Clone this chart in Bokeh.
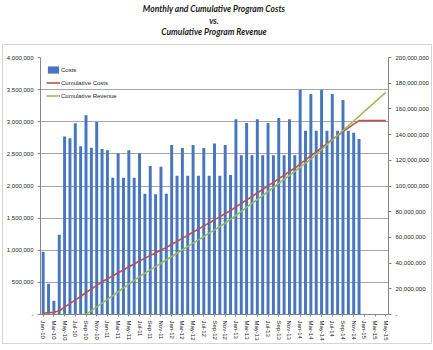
import numpy as np
from bokeh.plotting import figure
from bokeh.layouts import column
from bokeh.models import (Range1d, LinearAxis, FixedTicker, NumeralTickFormatter,
                          Legend, LegendItem, ColumnDataSource)
from bokeh.core.properties import value
from bokeh.embed import file_html
from bokeh.resources import INLINE

# ---------------- data ----------------
months = ["Jan-10", "Feb-10", "Mar-10", "Apr-10", "May-10", "Jun-10", "Jul-10", "Aug-10", "Sep-10", "Oct-10", "Nov-10", "Dec-10",
          "Jan-11", "Feb-11", "Mar-11", "Apr-11", "May-11", "Jun-11", "Jul-11", "Aug-11", "Sep-11", "Oct-11", "Nov-11", "Dec-11",
          "Jan-12", "Feb-12", "Mar-12", "Apr-12", "May-12", "Jun-12", "Jul-12", "Aug-12", "Sep-12", "Oct-12", "Nov-12", "Dec-12",
          "Jan-13", "Feb-13", "Mar-13", "Apr-13", "May-13", "Jun-13", "Jul-13", "Aug-13", "Sep-13", "Oct-13", "Nov-13", "Dec-13",
          "Jan-14", "Feb-14", "Mar-14", "Apr-14", "May-14", "Jun-14", "Jul-14", "Aug-14", "Sep-14", "Oct-14", "Nov-14", "Dec-14",
          "Jan-15", "Feb-15", "Mar-15", "Apr-15", "May-15"]

costs = [975000, 480000, 215000, 1240000, 2770000, 2745000, 2975000, 2620000, 3100000, 2595000, 2995000, 2575000,
         2555000, 2130000, 2510000, 2130000, 2555000, 2130000, 2510000, 1880000, 2310000, 1870000, 2300000, 1880000,
         2640000, 2160000, 2590000, 2160000, 2640000, 2160000, 2590000, 2160000, 2660000, 2160000, 2640000, 2170000,
         3040000, 2480000, 2980000, 2480000, 3040000, 2480000, 2980000, 2480000, 3060000, 2480000, 3040000, 2480000,
         3500000, 2860000, 3430000, 2860000, 3500000, 2860000, 3430000, 2860000, 3340000, 2860000, 2830000, 2730000]

cumulative_costs = [975000, 1455000, 1670000, 2910000, 5680000, 8425000, 11400000, 14020000, 17120000, 19715000, 22710000, 25285000,
                    27840000, 29970000, 32480000, 34610000, 37165000, 39295000, 41805000, 43685000, 45995000, 47865000, 50165000, 52045000,
                    54685000, 56845000, 59435000, 61595000, 64235000, 66395000, 68985000, 71145000, 73805000, 75965000, 78605000, 80775000,
                    83815000, 86295000, 89275000, 91755000, 94795000, 97275000, 100255000, 102735000, 105795000, 108275000, 111315000, 113795000,
                    117295000, 120155000, 123585000, 126445000, 129945000, 132805000, 136235000, 139095000, 142435000, 145295000, 148125000, 150855000,
                    150855000, 150855000, 150855000, 150855000, 150855000]

cumulative_revenue = [0, 0, 0, 0, 0, 0, 0, 0, 0, 2950000, 5900000, 8850000,
                      11800000, 14750000, 17700000, 20650000, 23600000, 26550000, 29500000, 32100000, 34700000, 37300000, 39900000, 42500000,
                      45100000, 47700000, 50300000, 52900000, 55500000, 58100000, 60700000, 63300000, 65900000, 68500000, 71200000, 74000000,
                      77100000, 80200000, 83300000, 86400000, 89500000, 92600000, 95700000, 98900000, 102000000, 105200000, 108300000, 111400000,
                      114600000, 117800000, 121000000, 124700000, 128400000, 132100000, 135800000, 139500000, 143200000, 146900000, 150600000, 154300000,
                      158000000, 161700000, 165400000, 169100000, 172800000]

left_ticks = [0, 500000, 1000000, 1500000, 2000000, 2500000, 3000000, 3500000, 4000000]
right_ticks = [0, 20000000, 40000000, 60000000, 80000000, 100000000, 120000000, 140000000, 160000000, 180000000, 200000000]
title_lines = ["Monthly and Cumulative Program Costs", "vs.", "Cumulative Program Revenue"]

# ---------------- title strip ----------------
FONT = "Liberation Sans"
AX = "#868686"

t = figure(width=433, height=44, output_backend="svg", toolbar_location=None,
           x_range=Range1d(-1, 1), y_range=Range1d(3.084, -0.793),
           x_axis_location=None, y_axis_location=None,
           min_border_left=0, min_border_right=0, min_border_top=0, min_border_bottom=0,
           background_fill_color="white", border_fill_color="white")
t.outline_line_color = None
t.xgrid.visible = False
t.ygrid.visible = False
t.text(x=[0, 0, 0], y=[0, 1, 2], text=title_lines, text_align="center",
       text_baseline="middle", text_font=value("Lato"), text_font_style="bold italic",
       text_font_size="8.5px", text_color="#1a1a1a")

# ---------------- main chart ----------------
idx = list(range(len(months)))
bar_src = ColumnDataSource(dict(x=idx[:len(costs)], top=costs))
line_src = ColumnDataSource(dict(x=idx, cc=cumulative_costs, cr=cumulative_revenue))

p = figure(width=428, height=298, output_backend="svg", toolbar_location=None,
           x_range=Range1d(-0.5, len(months) - 0.5), y_range=Range1d(0, 4000000),
           min_border_left=36, min_border_right=43, min_border_top=12, min_border_bottom=29,
           background_fill_color="white", border_fill_color="white")
p.margin = (1, 2, 0, 3)
p.styles = {"outline": "1px solid #d6d6d6"}
p.outline_line_color = None
p.extra_y_ranges = {"rev": Range1d(0, 200000000)}

bars = p.vbar(x="x", top="top", width=0.55, source=bar_src,
              fill_color="#4676bd", line_color=None)
r_cc = p.line(x="x", y="cc", source=line_src, y_range_name="rev",
              line_color="#C0504D", line_width=1.6)
r_cr = p.line(x="x", y="cr", source=line_src, y_range_name="rev",
              line_color="#9BBB59", line_width=1.6)

# axes
xa = p.xaxis[0]
xa.ticker = FixedTicker(ticks=idx[::2])
xa.major_label_overrides = {i: months[i] for i in idx[::2]}
xa.major_label_orientation = "vertical"
xa.major_label_text_font = FONT
xa.major_label_text_font_size = "6px"
xa.major_label_text_color = "#222222"
xa.major_label_standoff = 4
xa.axis_line_color = AX
xa.major_tick_line_color = AX
xa.major_tick_out = 2
xa.major_tick_in = 0
xa.minor_tick_line_color = None

ya = p.yaxis[0]
ya.ticker = FixedTicker(ticks=left_ticks)
ya.formatter = NumeralTickFormatter(format="0,0")
ya.major_label_overrides = {0: "-"}
ya.major_label_text_font = FONT
ya.major_label_text_font_size = "6px"
ya.major_label_text_color = "#222222"
ya.major_label_standoff = 4
ya.axis_line_color = AX
ya.major_tick_line_color = AX
ya.major_tick_out = 3
ya.major_tick_in = 0
ya.minor_tick_line_color = None

ra = LinearAxis(y_range_name="rev", ticker=FixedTicker(ticks=right_ticks),
                formatter=NumeralTickFormatter(format="0,0"))
ra.major_label_overrides = {0: "-"}
ra.major_label_text_font = FONT
ra.major_label_text_font_size = "6px"
ra.major_label_text_color = "#222222"
ra.major_label_standoff = 4
ra.axis_line_color = AX
ra.major_tick_line_color = AX
ra.major_tick_out = 3
ra.major_tick_in = 0
ra.minor_tick_line_color = None
p.add_layout(ra, "right")

p.xgrid.grid_line_color = None
p.ygrid.ticker = FixedTicker(ticks=left_ticks)
p.ygrid.grid_line_color = "#a6a6a6"
p.ygrid.grid_line_width = 1

# legend
legend = Legend(items=[LegendItem(label="Costs", renderers=[bars]),
                       LegendItem(label="Cumulative Costs", renderers=[r_cc]),
                       LegendItem(label="Cumulative Revenue", renderers=[r_cr])],
                location=(6, 214), orientation="vertical")
legend.background_fill_alpha = 0
legend.border_line_color = None
legend.label_text_font = FONT
legend.label_text_font_size = "6px"
legend.label_text_color = "#222222"
legend.glyph_width = 14
legend.glyph_height = 9
legend.label_height = 9
legend.label_standoff = 1
legend.spacing = 4
legend.padding = 3
legend.margin = 0
p.add_layout(legend)

layout = column(t, p, spacing=0)
open("out.html", "w").write(file_html(layout, INLINE))
